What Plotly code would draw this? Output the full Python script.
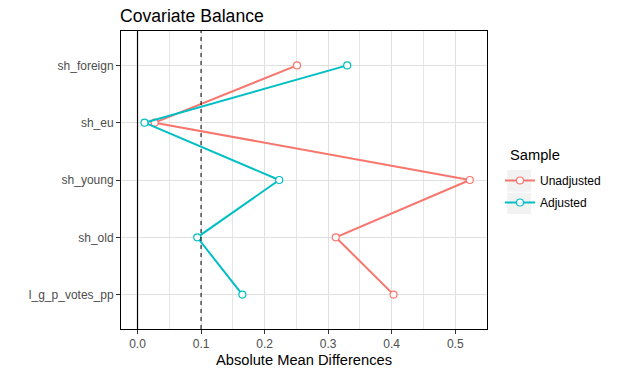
import plotly.graph_objects as go

covariates = ["sh_foreign", "sh_eu", "sh_young", "sh_old", "l_g_p_votes_pp"]
unadjusted = [0.251, 0.027, 0.523, 0.312, 0.403]
adjusted = [0.330, 0.011, 0.223, 0.094, 0.165]
x_ticks = [0.0, 0.1, 0.2, 0.3, 0.4, 0.5]
x_tick_labels = ["0.0", "0.1", "0.2", "0.3", "0.4", "0.5"]
threshold = 0.1

FONT = "Arial, Liberation Sans, sans-serif"

fig = go.Figure()
fig.add_trace(go.Scatter(
    x=unadjusted, y=covariates, name="Unadjusted", mode="lines+markers", legendgroup="u",
    line=dict(color="#F8766D", width=2),
    marker=dict(symbol="circle", size=7, color="white", line=dict(color="#F8766D", width=1.2)),
))
fig.add_trace(go.Scatter(
    x=adjusted, y=covariates, name="Adjusted", mode="lines+markers", legendgroup="a",
    line=dict(color="#00BFC4", width=2),
    marker=dict(symbol="circle", size=7, color="white", line=dict(color="#00BFC4", width=1.2)),
))

fig.add_shape(type="line", xref="x", yref="paper", x0=0, x1=0, y0=0, y1=1,
              line=dict(color="black", width=1.2), layer="above")
fig.add_shape(type="line", xref="x", yref="paper", x0=threshold, x1=threshold, y0=0, y1=1,
              line=dict(color="black", width=1, dash="4px,4px"), layer="above")

# grey legend key backgrounds
for y0, y1 in [(0.4607, 0.5336), (0.3859, 0.4574)]:
    fig.add_shape(type="rect", xref="paper", yref="paper", x0=1.0555, x1=1.1202, y0=y0, y1=y1,
                  fillcolor="#F2F2F2", line=dict(width=0), layer="below")

fig.add_annotation(text="Sample", xref="paper", yref="paper", x=1.0574, y=0.5839,
                   xanchor="left", yanchor="middle", showarrow=False,
                   font=dict(size=14.7, color="black", family=FONT))

fig.update_layout(
    width=620, height=377,
    margin=dict(l=121, r=133, t=31, b=48),
    paper_bgcolor="white", plot_bgcolor="white",
    font=dict(family=FONT, size=12, color="#1a1a1a"),
    title=dict(text="Covariate Balance", x=120/620, xanchor="left", y=1 - 16/377, yanchor="middle",
               font=dict(size=17.6, color="black")),
    showlegend=True,
    legend=dict(x=1.0355, xanchor="left",
                y=0.547, yanchor="top", font=dict(size=12, color="black"), bgcolor="rgba(0,0,0,0)",
                traceorder="grouped", tracegroupgap=3, itemwidth=30),
    xaxis=dict(range=[-0.026, 0.550], tickvals=x_ticks, ticktext=x_tick_labels,
               showgrid=True, gridcolor="#E0E0E0", gridwidth=1, zeroline=False,
               minor=dict(dtick=0.05, tick0=0, showgrid=True, gridcolor="#E6E6E6", gridwidth=1),
               showline=True, mirror=True, linecolor="black", linewidth=1,
               ticks="outside", ticklen=4, tickcolor="#333333",
               tickfont=dict(size=12, color="#4d4d4d"),
               title=dict(text="Absolute Mean Differences", font=dict(size=14.7, color="black"), standoff=4)),
    yaxis=dict(type="category", categoryorder="array", categoryarray=covariates,
               range=[4.6, -0.6], showgrid=True, gridcolor="#E0E0E0", gridwidth=1, zeroline=False,
               showline=True, mirror=True, linecolor="black", linewidth=1,
               ticks="outside", ticklen=4, tickcolor="#333333",
               tickfont=dict(size=12, color="#4d4d4d")),
)

fig.write_html("out.html", config={"displayModeBar": False},
               post_script="document.body.style.margin='0';")
